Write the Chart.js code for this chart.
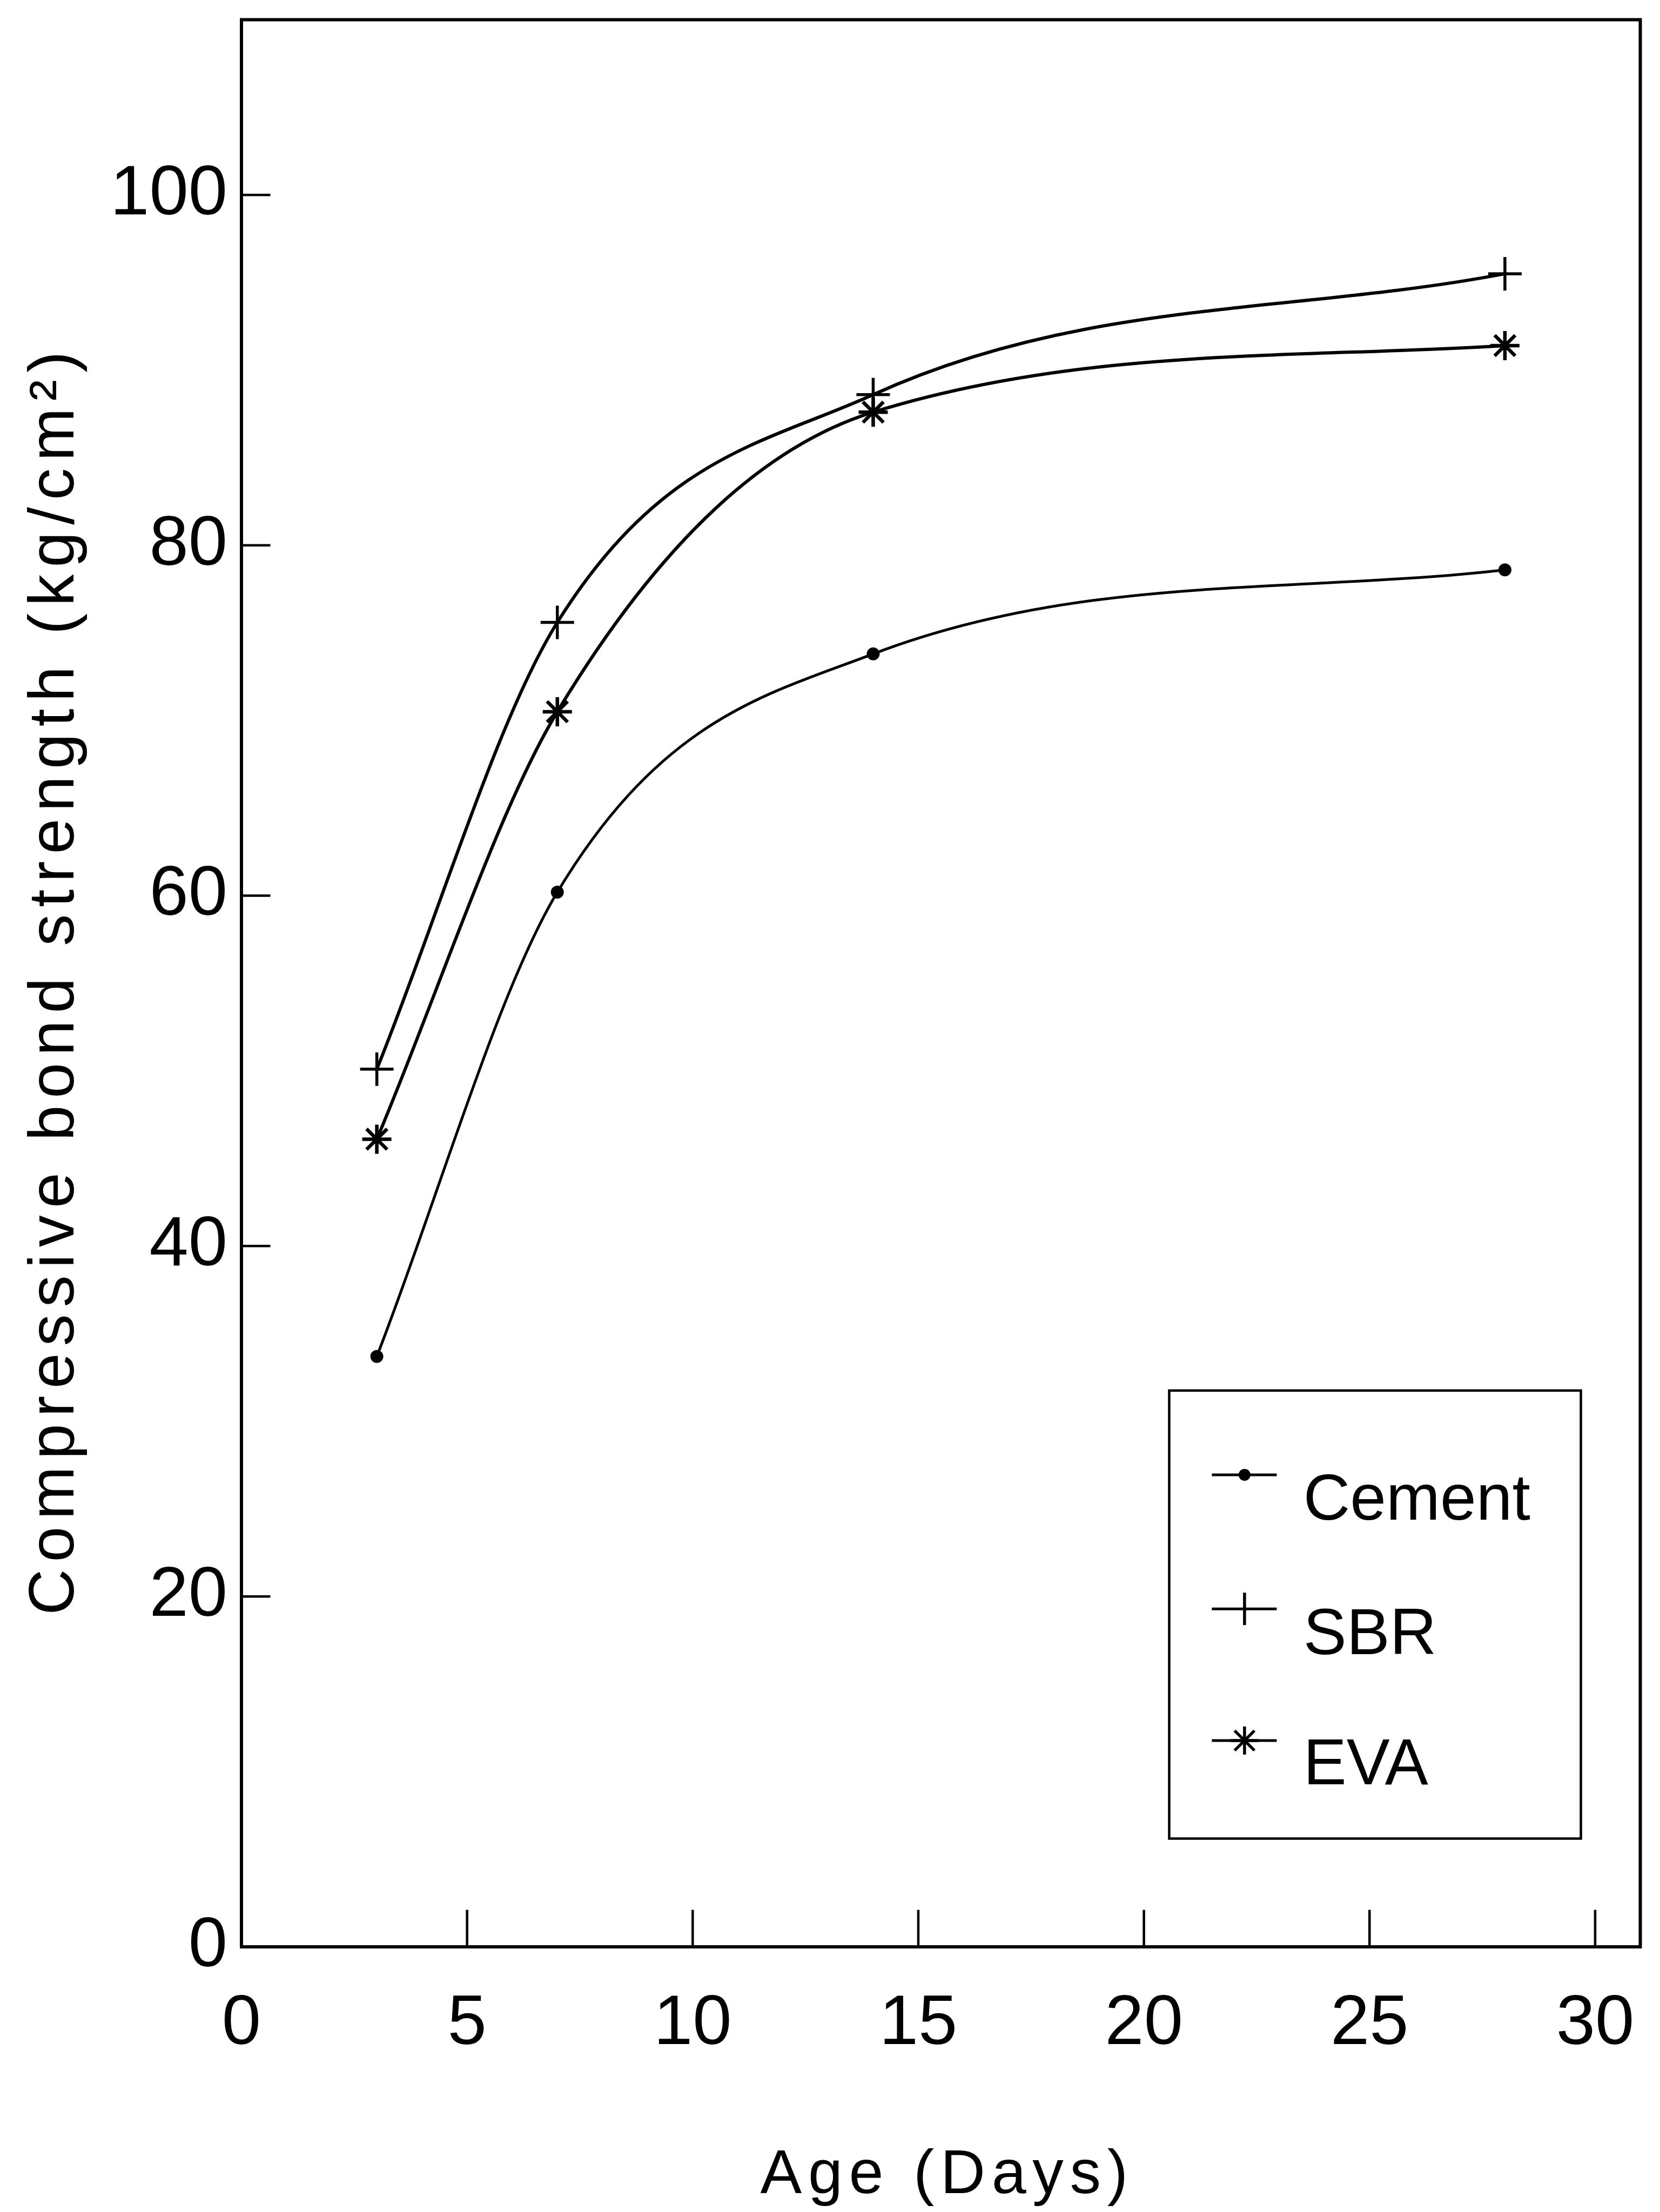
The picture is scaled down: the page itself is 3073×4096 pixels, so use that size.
<!DOCTYPE html>
<html>
<head>
<meta charset="utf-8">
<script src="https://cdn.jsdelivr.net/npm/chart.js@4.4.0/dist/chart.umd.min.js"></script>
<style>
html,body{margin:0;padding:0;background:#ffffff;overflow:hidden}
#wrap{width:3073px;height:4096px;position:relative}
canvas{display:block}
</style>
</head>
<body>
<div id="wrap"><canvas id="c" width="3073" height="4096"></canvas></div>
<script>
// ---- data ----
const ageDays = [3, 7, 14, 28];
const cement = [33.7, 60.2, 73.8, 78.6];
const sbr = [50.1, 75.6, 88.6, 95.5];
const eva = [46.1, 70.5, 87.6, 91.4];
const seriesNames = ['Cement', 'SBR', 'EVA'];
const xTickLabels = [0, 5, 10, 15, 20, 25, 30];
const yTickLabels = [0, 20, 40, 60, 80, 100];
const xTitle = 'Age (Days)';
const yTitle = 'Compressive bond strength (kg/cm\u00B2)';

// ---- styling (0.877 of the reference) ----
const S = 0.877;
const FONT = '"Liberation Sans", Arial, Helvetica, sans-serif';
const INK = '#000000';

function pts(ys) { return ageDays.map((x, i) => ({ x: x, y: ys[i] })); }

const styles = [
  { pointStyle: 'circle', radius: 10, lw: 5, pw: 4 },
  { pointStyle: 'cross', radius: 31, lw: 6, pw: 5.5 },
  { pointStyle: 'star', radius: 27, lw: 6, pw: 6.5 }
];
const seriesValues = [cement, sbr, eva];

const datasets = seriesNames.map((name, i) => ({
  label: name,
  data: pts(seriesValues[i]),
  borderColor: INK,
  backgroundColor: INK,
  borderWidth: styles[i].lw,
  pointStyle: styles[i].pointStyle,
  pointRadius: styles[i].radius,
  pointBorderWidth: styles[i].pw,
  pointBorderColor: INK,
  pointBackgroundColor: INK,
  cubicInterpolationMode: 'monotone',
  tension: 0.4,
  fill: false
}));

function spacedText(ctx, text, x, y, targetWidth, align) {
  ctx.save();
  const w0 = ctx.measureText(text).width;
  let sp = 0;
  if ('letterSpacing' in ctx && text.length > 1) {
    sp = (targetWidth - w0) / (text.length - 1);
    ctx.letterSpacing = sp + 'px';
  }
  const w = w0 + sp * (text.length - 1);
  ctx.textAlign = 'left';
  ctx.fillText(text, align === 'center' ? x - w / 2 : x, y);
  ctx.restore();
}

function noPad(s) { s.paddingTop = 0; s.paddingBottom = 0; s.paddingLeft = 0; s.paddingRight = 0; }

const framePlugin = {
  id: 'frameTicks',
  beforeDatasetsDraw(chart) {
    const ctx = chart.ctx, ca = chart.chartArea;
    const xs = chart.scales.x, ys = chart.scales.y;
    ctx.save();
    ctx.strokeStyle = INK;
    ctx.lineWidth = 6;
    ctx.lineCap = 'square';
    ctx.strokeRect(ca.left, ca.top, ca.right - ca.left, ca.bottom - ca.top);
    ctx.lineWidth = 4.5;
    ctx.lineCap = 'butt';
    ctx.beginPath();
    yTickLabels.forEach(v => {
      if (v === 0) return;
      const py = ys.getPixelForValue(v);
      ctx.moveTo(ca.left, py);
      ctx.lineTo(ca.left + 61 * S, py);
    });
    xTickLabels.forEach(v => {
      if (v === 0) return;
      const px = xs.getPixelForValue(v);
      ctx.moveTo(px, ca.bottom);
      ctx.lineTo(px, ca.bottom - 78 * S);
    });
    ctx.stroke();
    ctx.restore();
  },
  afterDraw(chart) {
    const ctx = chart.ctx, ca = chart.chartArea;
    ctx.save();
    ctx.fillStyle = INK;
    ctx.textBaseline = 'alphabetic';
    // x axis title
    ctx.font = '115px ' + FONT;
    spacedText(ctx, xTitle, (ca.left + ca.right) / 2 + 6, 4630 * S, 776 * S, 'center');
    // y axis title
    ctx.save();
    ctx.translate(155 * S, (ca.top + ca.bottom) / 2);
    ctx.rotate(-Math.PI / 2);
    ctx.font = '118px ' + FONT;
    spacedText(ctx, yTitle, 0, 0, 2340, 'center');
    ctx.restore();

    // legend box
    const bx0 = 2468 * S, bx1 = 3337 * S, by0 = 2936 * S, by1 = 3882 * S;
    ctx.strokeStyle = INK;
    ctx.lineWidth = 4.5;
    ctx.strokeRect(bx0, by0, bx1 - bx0, by1 - by0);
    const lineY = [3114, 3397, 3675].map(v => v * S);
    const textBase = [3209, 3493, 3767].map(v => v * S);
    const sx0 = 2558 * S, sx1 = 2695 * S, mx = 2627 * S;
    ctx.font = '120px ' + FONT;
    seriesNames.forEach((name, i) => {
      const y = lineY[i];
      ctx.lineWidth = 5;
      ctx.beginPath();
      ctx.moveTo(sx0, y); ctx.lineTo(sx1, y);
      ctx.stroke();
      ctx.lineWidth = 5.5;
      ctx.beginPath();
      if (i === 0) {
        ctx.arc(mx, y, 11, 0, Math.PI * 2);
        ctx.fill();
      } else if (i === 1) {
        ctx.moveTo(mx, y - 30); ctx.lineTo(mx, y + 30);
        ctx.stroke();
      } else {
        const r = 26;
        ctx.moveTo(mx - r, y); ctx.lineTo(mx + r, y);
        ctx.moveTo(mx, y - r); ctx.lineTo(mx, y + r);
        const d = r * Math.SQRT1_2;
        ctx.moveTo(mx - d, y - d); ctx.lineTo(mx + d, y + d);
        ctx.moveTo(mx - d, y + d); ctx.lineTo(mx + d, y - d);
        ctx.stroke();
      }
      ctx.textAlign = 'left';
      ctx.fillText(name, 2751 * S, textBase[i]);
    });
    ctx.restore();
  }
};

new Chart(document.getElementById('c'), {
  type: 'line',
  data: { datasets: datasets },
  options: {
    responsive: false,
    animation: false,
    devicePixelRatio: 1,
    layout: { padding: { left: 0, right: 20, top: 25, bottom: 0 } },
    plugins: { legend: { display: false }, tooltip: { enabled: false } },
    scales: {
      x: {
        type: 'linear',
        min: 0,
        max: 31,
        afterBuildTicks: s => { s.ticks = xTickLabels.map(v => ({ value: v })); },
        afterFit: s => { s.height = 491; noPad(s); },
        grid: { display: false, drawTicks: false },
        border: { display: false },
        title: { display: false, text: xTitle },
        ticks: {
          color: INK,
          padding: 66,
          maxRotation: 0,
          autoSkip: false,
          font: { family: FONT, size: 130 },
          callback: v => String(v)
        }
      },
      y: {
        type: 'linear',
        min: 0,
        max: 110,
        afterBuildTicks: s => { s.ticks = yTickLabels.map(v => ({ value: v })); },
        afterFit: s => { s.width = 447; noPad(s); },
        grid: { display: false, drawTicks: false },
        border: { display: false },
        title: { display: false, text: yTitle },
        ticks: {
          color: INK,
          padding: 26,
          autoSkip: false,
          font: { family: FONT, size: 130 },
          callback: v => String(v)
        }
      }
    }
  },
  plugins: [framePlugin]
});
</script>
</body>
</html>
